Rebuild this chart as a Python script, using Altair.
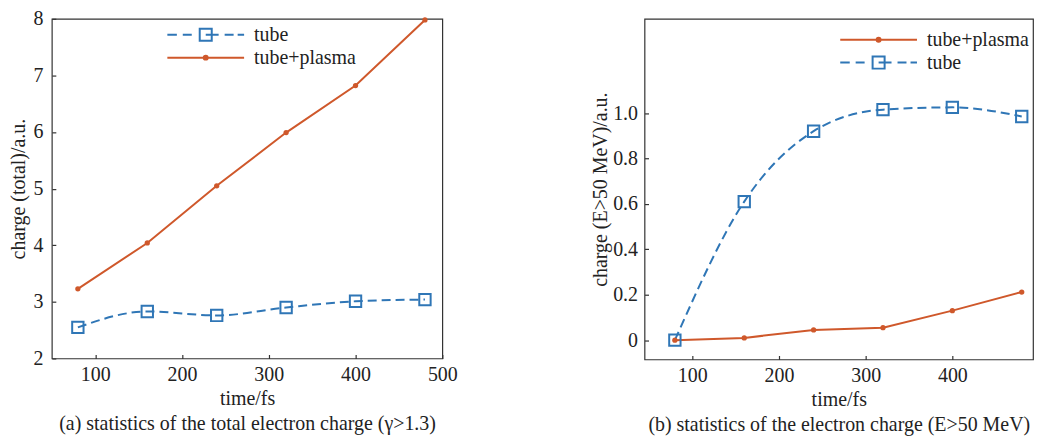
import altair as alt
import pandas as pd

# ---- data ----
time_fs = [80, 160, 240, 320, 400, 480]
a_tube = [2.55, 2.83, 2.76, 2.90, 3.01, 3.04]
a_plasma = [3.23, 4.04, 5.05, 5.99, 6.82, 7.98]
b_tube = [0.0, 0.61, 0.92, 1.015, 1.025, 0.985]
b_plasma = [0.0, 0.01, 0.045, 0.055, 0.13, 0.212]

series_colors = {"tube": "#2f76b6", "tube+plasma": "#cf582b"}

a_xticks = [100, 200, 300, 400, 500]
a_yticks = [2, 3, 4, 5, 6, 7, 8]
b_xticks = [100, 200, 300, 400]
b_yticks = [0, 0.2, 0.4, 0.6, 0.8, 1.0]

a_ytitle = "charge (total)/a.u."
b_ytitle = "charge (E>50 MeV)/a.u."
a_caption = "(a) statistics of the total electron charge (γ>1.3)"
b_caption = "(b) statistics of the electron charge (E>50 MeV)"
xtitle = "time/fs"

FONT = "Liberation Serif"
INK = "#222222"
FS = 20

# legend glyphs (symbol units of 9 px): dashed line with hollow square / solid line with dot
legend_glyphs = {
    "tube": ("M-4.28,0H-3.22M-2.56,0H-1.56"
             "M-0.67,-0.67H0.67V0.67H-0.67Z"
             "M-0.67,-0.67V0.67H0.67V-0.67Z"
             "M0,0H1.44M2.11,0H3.11M3.56,0H4.28"),
    "tube+plasma": ("M-4.28,0H4.28"
                    "M0.22,0A0.22 0.22 0 1 1 -0.22,0A0.22 0.22 0 1 1 0.22,0"),
}


def panel(tube, plasma, xdom, ydom, xticks, yticks, ytitle, caption, order,
          lx, ly, w, h, ylab_pad, ytitle_pad, ylab_expr=None):
    df = pd.DataFrame({
        "time": time_fs + time_fs,
        "value": tube + plasma,
        "series": ["tube"] * len(tube) + ["tube+plasma"] * len(plasma),
    })
    base = alt.Chart(df)
    x = alt.X("time:Q", scale=alt.Scale(domain=xdom, nice=False, zero=False),
              axis=alt.Axis(values=xticks, title=[xtitle, caption],
                            labelPadding=6, titlePadding=4, titleLineHeight=25,
                            labelFlush=False))
    yaxis_kw = dict(values=yticks, title=ytitle, labelPadding=ylab_pad,
                    titlePadding=ytitle_pad, labelFlush=False)
    if ylab_expr:
        yaxis_kw["labelExpr"] = ylab_expr
    y = alt.Y("value:Q", scale=alt.Scale(domain=ydom, nice=False, zero=False),
              axis=alt.Axis(**yaxis_kw))
    legend = alt.Legend(
        orient="none", legendX=lx, legendY=ly, title=None,
        labelFont=FONT, labelFontSize=FS, labelColor=INK,
        symbolSize=324, symbolStrokeWidth=2, symbolOpacity=1,
        symbolFillColor="transparent", labelOffset=38.5, rowPadding=2,
        padding=0,
    )
    cscale = alt.Scale(domain=order, range=[series_colors[s] for s in order])
    color_leg = alt.Color("series:N", scale=cscale, legend=legend)
    shape_leg = alt.Shape("series:N",
                          scale=alt.Scale(domain=order,
                                          range=[legend_glyphs[s] for s in order]),
                          legend=legend)
    color = alt.Color("series:N", scale=cscale, legend=None)

    tube_df = base.transform_filter(alt.datum.series == "tube")
    plasma_df = base.transform_filter(alt.datum.series == "tube+plasma")
    # invisible layer that only carries the legend (first, so its legend wins)
    legend_layer = base.mark_point(filled=False, strokeWidth=2).encode(
        x=x, y=y, color=color_leg, shape=shape_leg, opacity=alt.value(0))
    tube_line = tube_df.mark_line(strokeWidth=2, strokeDash=[9, 5],
                                  interpolate="monotone").encode(x=x, y=y, color=color)
    plasma_line = plasma_df.mark_line(strokeWidth=2).encode(x=x, y=y, color=color)
    tube_pts = tube_df.mark_point(shape="square", filled=False, size=130,
                                  strokeWidth=2, opacity=1).encode(x=x, y=y, color=color)
    plasma_pts = plasma_df.mark_circle(size=28, opacity=1).encode(x=x, y=y, color=color)
    return alt.layer(legend_layer, tube_line, plasma_line, tube_pts,
                     plasma_pts).properties(width=w, height=h)


left = panel(a_tube, a_plasma, [50, 500], [2, 8], a_xticks, a_yticks,
             a_ytitle, a_caption, ["tube", "tube+plasma"], 144.5, 6, 392, 341, 9, 4)
right = panel(b_tube, b_plasma, [45, 493], [-0.085, 1.415], b_xticks, b_yticks,
              b_ytitle, b_caption, ["tube+plasma", "tube"], 225, 11, 390, 342, 7, 2,
              "datum.value == 0 ? '0' : format(datum.value, '.1f')")

chart = alt.hconcat(left, right, spacing=203, bounds="flush").resolve_scale(
    color="independent", shape="independent").resolve_legend(
    color="independent", shape="independent").properties(
    padding={"left": 0, "top": -1, "right": 0, "bottom": 0}
).configure(background="white").configure_view(
    stroke="#333333", strokeWidth=1.2
).configure_axis(
    domain=False, offset=-4, tickSize=4, tickColor="#333333", tickWidth=1.2,
    labelFont=FONT, labelFontSize=FS, labelColor=INK,
    titleFont=FONT, titleFontSize=FS, titleFontWeight="normal", titleColor=INK,
    grid=False,
)

chart.save("out.html", embed_options={"renderer": "svg", "actions": False})
